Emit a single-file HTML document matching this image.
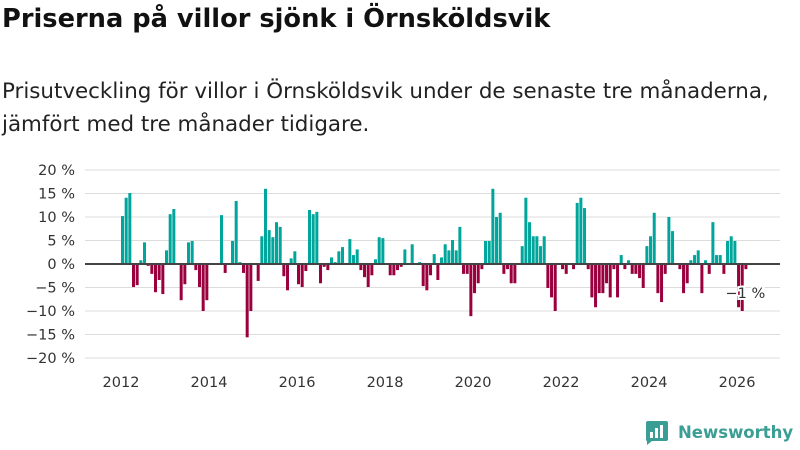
<!DOCTYPE html>
<html><head><meta charset="utf-8"><style>
html,body{margin:0;padding:0;background:#fff;width:800px;height:450px;overflow:hidden;font-family:"DejaVu Sans","Liberation Sans",sans-serif;}
#title{position:absolute;left:2px;top:4px;font-size:25.7px;font-weight:bold;color:#111;margin:0;white-space:nowrap;}
#sub{position:absolute;left:2px;top:75px;font-size:21.4px;line-height:33px;color:#222;white-space:nowrap;}
svg{position:absolute;left:0;top:0;}
</style></head><body>
<h1 id="title">Priserna på villor sjönk i Örnsköldsvik</h1>
<div id="sub">Prisutveckling för villor i Örnsköldsvik under de senaste tre månaderna,<br>jämfört med tre månader tidigare.</div>
<svg id="chart" width="800" height="450"></svg>
<script>
const values = [10.2,14.1,15.1,-4.9,-4.5,0.8,4.6,-0.4,-2.1,-6,-3.4,-6.4,2.9,10.6,11.7,0,-7.7,-4.3,4.6,4.9,-1.3,-4.9,-10,-7.7,0,0,0,10.4,-1.9,0,4.9,13.4,0.4,-1.9,-15.6,-10,0,-3.6,5.9,16,7.2,5.7,8.9,7.9,
-2.6,-5.6,1.2,2.7,-4.3,-4.9,-1.5,11.5,10.6,11.1,-4.1,-0.6,-1.3,1.4,0.4,2.7,3.6,0,5.3,1.9,3.1,-1.3,-2.8,-4.9,-2.4,1,5.7,5.5,0,-2.4,-2.4,-1.3,-0.6,3.1,0,4.2,0,0.4,-4.7,-5.6,-2.4,2.1,-3.4,1.4,4.2,2.9,5.1,2.9,7.9,-2.1,-2.1,-11.1,-6.2,-4.1,-1.1,4.9,4.9,16,10,10.9,-2.1,-1.1,-4.1,-4.1,0,3.8,14.1,8.9,5.9,5.9,3.8,5.9,-5.1,-7.1,-10,0,-1.1,-2.1,0,-1.1,13,14.1,11.9,-1.1,-7.1,-9.2,-6.2,-6.2,-4.1,-7.1,-1.1,-7.1,1.9,-1.1,0.8,-2.1,-2.1,-3,-5.1,3.8,5.9,10.9,-6.2,-8.1,-2.1,10,7,0,-1.1,-6.2,-4.1,0.8,1.9,2.9,-6.2,0.8,-2.1,8.9,1.9,1.9,-2.1,4.9,5.9,4.9,-9.2,-10,-1.1];
const yTicks = [20,15,10,5,0,-5,-10,-15,-20];
const xYears = [2012,2014,2016,2018,2020,2022,2024,2026];
const startYear = 2012;
const lastLabel = "−1 %";

const NS="http://www.w3.org/2000/svg";
const svg=document.getElementById('chart');
const FONT='DejaVu Sans, Liberation Sans, sans-serif';
const y=v=>264-v*4.7;
const x=i=>121+i*3.667;
function mk(t,a){const e=document.createElementNS(NS,t);for(const k in a)e.setAttribute(k,a[k]);svg.appendChild(e);return e;}
yTicks.forEach(v=>{
  const g=mk('line',{x1:85,x2:780,y1:y(v),y2:y(v),stroke:'#dcdcdc','stroke-width':1});
  
  
  const t=mk('text',{x:75,y:y(v)+5,'text-anchor':'end','font-size':14.5,fill:'#333','font-family':FONT});
  t.textContent=(v<0?'−'+(-v):v)+' %';
  
  
});
xYears.forEach(yr=>{
  const t=mk('text',{x:x((yr-startYear)*12),y:387,'text-anchor':'middle','font-size':14.5,fill:'#333','font-family':FONT});
  t.textContent=yr;
  
  
});
values.forEach((v,i)=>{
  if(v===0)return;
  const r=mk('rect',{x:x(i),width:3,y:Math.min(y(v),y(0)),height:Math.abs(y(v)-y(0)),fill:v>0?'#00a59b':'#9a003e'});
  
  
});
const z=mk('line',{x1:85,x2:780,y1:y(0),y2:y(0),stroke:'#444','stroke-width':2});


const li=values.length-1;
const lb=mk('text',{x:x(li)+1,y:y(values[li])+29,'text-anchor':'middle','font-size':14.5,fill:'#333',stroke:'#fff','stroke-width':4,'paint-order':'stroke','font-family':FONT});
lb.textContent=lastLabel;


</script>
<div style="position:absolute;left:644px;top:419px;display:flex;align-items:center;">
<svg width="26" height="26" style="position:static" viewBox="0 0 26 26"><path d="M2 4 Q2 2 4 2 H22 Q24 2 24 4 V20 Q24 22 22 22 H8 L3 26 V22 Q2 22 2 20Z" fill="#3a9e94"/><rect x="6" y="13" width="3" height="6" fill="#fff"/><rect x="11" y="9" width="3" height="10" fill="#fff"/><rect x="16" y="6" width="3" height="13" fill="#fff"/></svg>
<span style="font-size:16.5px;color:#3a9e94;margin-left:8px;font-weight:bold;font-family:'DejaVu Sans',sans-serif;">Newsworthy</span></div>
</body></html>
